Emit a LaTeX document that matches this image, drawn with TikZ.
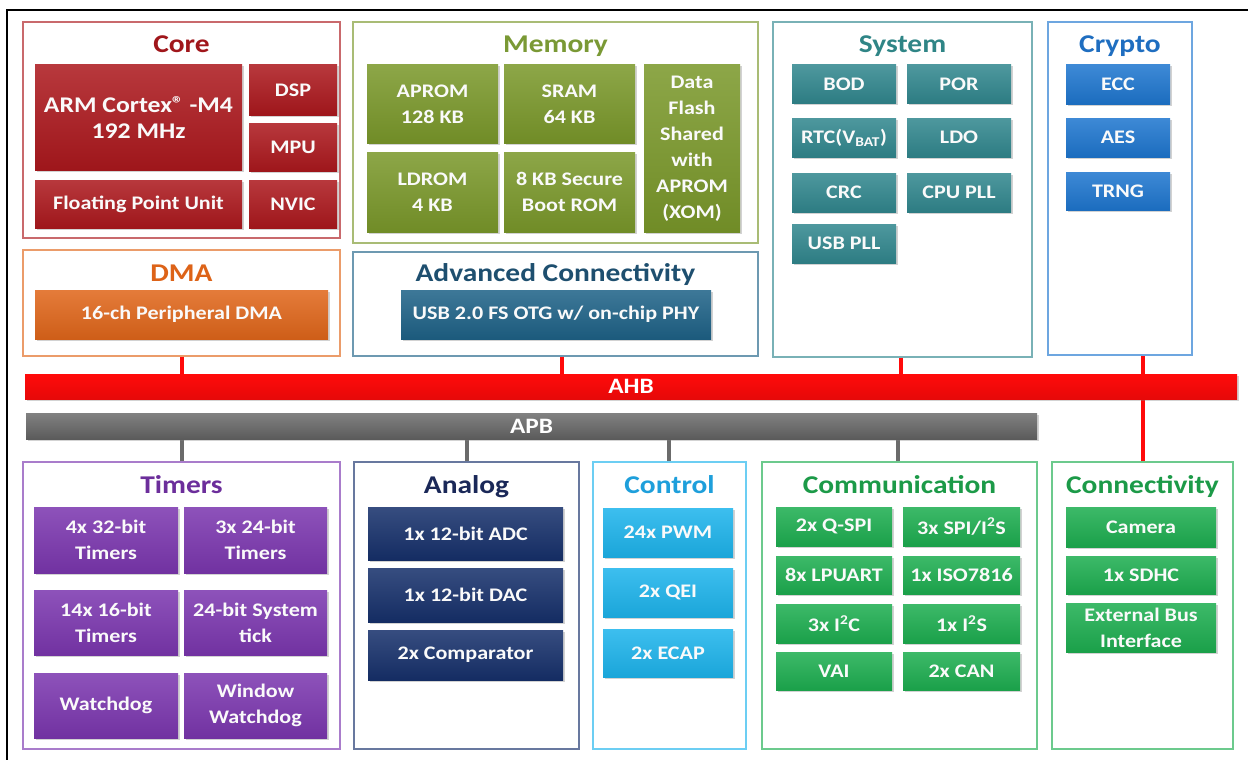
\documentclass[tikz,border=0pt]{standalone}
\usepackage{fontspec}
\setmainfont{Carlito}[FakeStretch=1.15]
\usetikzlibrary{shadows}
\definecolor{coreF}{HTML}{AC181D}\definecolor{coreT}{HTML}{A0161B}
\definecolor{dmaF}{HTML}{E0661A}\definecolor{dmaT}{HTML}{DD6318}
\definecolor{memF}{HTML}{7A982A}\definecolor{memT}{HTML}{7A9935}
\definecolor{advF}{HTML}{1E6287}\definecolor{advT}{HTML}{1E4F6F}
\definecolor{sysF}{HTML}{31878E}\definecolor{sysT}{HTML}{2F8586}
\definecolor{cryF}{HTML}{1E76CF}\definecolor{cryT}{HTML}{1F6EC0}
\definecolor{timF}{HTML}{7B36AF}\definecolor{timT}{HTML}{6C2E9B}
\definecolor{anaF}{HTML}{16306B}\definecolor{anaT}{HTML}{1A2858}
\definecolor{ctlF}{HTML}{1DB4EC}\definecolor{ctlT}{HTML}{1E9FDB}
\definecolor{comF}{HTML}{1DAE50}\definecolor{comT}{HTML}{1C9A48}
\definecolor{ahbF}{HTML}{FF0A0A}\definecolor{apbF}{HTML}{6B6B6B}
\tikzset{
  grp/.style={draw, line width=1.4pt, inner sep=0pt, fill=white},
  blk/.style={inner sep=0pt, align=center, text=white!96!gray,
    font=\fontsize{19.2}{26}\selectfont\bfseries,
    drop shadow={opacity=0.35, shadow xshift=1.5pt, shadow yshift=-1.5pt}},
  ttl/.style={anchor=base, inner sep=0pt, font=\fontsize{25.6}{30}\selectfont\bfseries},
  bus/.style={inner sep=0pt, text=white, font=\fontsize{22}{24}\selectfont\bfseries,
    drop shadow={opacity=0.35, shadow xshift=1.5pt, shadow yshift=-1.5pt}},
  ahbw/.style={draw=ahbF, line width=4pt},
  apbw/.style={draw=apbF, line width=4pt},
  frame/.style={draw=black, line width=2pt}
}
\newcommand\grpbox[6]{\node[grp, draw=#6!65!white, minimum width={(#4-#2)*1pt}, minimum height={(#5-#3)*1pt}] (#1) at ({(#2+#4)/2},{(#3+#5)/2}) {};}
\newcommand\blk[7]{\node[blk, top color=#6!86!white, bottom color=#6!92!black, minimum width={(#4-#2)*1pt}, minimum height={(#5-#3)*1pt}] (#1) at ({(#2+#4)/2},{(#3+#5)/2}) {#7};}
\newcommand\ttl[5]{\node[ttl, text=#4] (#1) at (#2,#3) {#5};}
\begin{document}
\begin{tikzpicture}[x=1pt, y=-1pt]
\useasboundingbox (0,0) rectangle (1248,760);
\coordinate (fbl) at (7,760);
\coordinate (ftl) at (7,10);
\coordinate (ftr) at (1248,10);
\draw[frame] (fbl) -- (ftl) -- (ftr);
% ---- top row groups
\grpbox{core}{23}{22}{340}{238}{coreF}
\grpbox{mem}{353}{22}{758}{243}{memF}
\grpbox{sys}{773}{22}{1032}{357}{sysF}
\grpbox{cry}{1048}{22}{1192}{355}{cryF}
\grpbox{dma}{23}{250}{340}{356}{dmaF}
\grpbox{adv}{353}{252}{758}{356}{advF}
% ---- bottom row groups
\grpbox{tim}{23}{462}{340}{749}{timF}
\grpbox{ana}{354}{462}{579}{749}{anaF}
\grpbox{ctl}{593}{462}{746}{749}{ctlF}
\grpbox{com}{762}{462}{1037}{749}{comF}
\grpbox{conn}{1052}{462}{1233}{749}{comF}
% ---- connectors
\draw[ahbw] (dma.south) -- (dma.south |- 0,386);
\draw[ahbw] ([xshift=6pt]adv.south) -- ([xshift=6pt]adv.south |- 0,386);
\draw[ahbw] ([xshift=-2pt]sys.south) -- ([xshift=-2pt]sys.south |- 0,386);
\draw[ahbw] (conn.north) -- (conn.north |- cry.south);
\draw[apbw] (tim.north) -- (tim.north |- 0,426);
\draw[apbw] (ana.north) -- (ana.north |- 0,426);
\draw[apbw] ([xshift=-1pt]ctl.north) -- ([xshift=-1pt]ctl.north |- 0,426);
\draw[apbw] ([xshift=-2pt]com.north) -- ([xshift=-2pt]com.north |- 0,426);
% ---- buses
\node[bus, top color=ahbF, bottom color=ahbF!90!black, minimum width=1212pt, minimum height=25pt] (ahb) at (631,386.5) {AHB};
\node[bus, top color=apbF!85!white, bottom color=apbF!85!black, minimum width=1011pt, minimum height=26pt] (apb) at (531.5,426) {APB};
% ---- titles
\ttl{coret}{181.5}{53}{coreT}{Core}
\ttl{memt}{555.5}{53}{memT}{Memory}
\ttl{syst}{902.5}{53}{sysT}{System}
\ttl{cryt}{1120}{53}{cryT}{Crypto}
\ttl{dmat}{181.5}{281}{dmaT}{DMA}
\ttl{advt}{555.5}{281}{advT}{Advanced Connectivity}
\ttl{timt}{181.5}{493}{timT}{Timers}
\ttl{anat}{466.5}{493}{anaT}{Analog}
\ttl{ctlt}{669.5}{493}{ctlT}{Control}
\ttl{comt}{899.5}{493}{comT}{Communication}
\ttl{connt}{1142.5}{493}{comT}{Connectivity}
% ---- core
\blk{arm}{35}{65}{242}{170}{coreF}{\fontsize{22.4}{28}\selectfont ARM Cortex\raisebox{2pt}{\fontsize{20}{20}\selectfont ®} -M4\\\fontsize{22.4}{28}\selectfont 192 MHz}
\blk{dsp}{249}{65}{337}{115}{coreF}{DSP}
\blk{mpu}{249}{123}{337}{171}{coreF}{MPU}
\blk{fpu}{35}{180}{242}{228}{coreF}{Floating Point Unit}
\blk{nvic}{249}{180}{337}{228}{coreF}{NVIC}
% ---- memory
\blk{aprom}{367}{65}{498}{143}{memF}{APROM\\128 KB}
\blk{sram}{504}{65}{635}{143}{memF}{SRAM\\64 KB}
\blk{ldrom}{367}{152}{498}{232}{memF}{LDROM\\4 KB}
\blk{sboot}{504}{152}{635}{232}{memF}{8 KB Secure\\Boot ROM}
\blk{dflash}{644}{65}{740}{232}{memF}{Data\\Flash\\Shared\\with\\APROM\\(XOM)}
% ---- system
\blk{bod}{792}{65}{896}{103}{sysF}{BOD}
\blk{por}{907}{65}{1011}{103}{sysF}{POR}
\blk{rtc}{792}{118}{896}{157}{sysF}{RTC(V\textsubscript{BAT})}
\blk{ldo}{907}{118}{1011}{157}{sysF}{LDO}
\blk{crc}{792}{173}{896}{212}{sysF}{CRC}
\blk{cpupll}{907}{173}{1011}{212}{sysF}{CPU PLL}
\blk{usbpll}{792}{224}{896}{263}{sysF}{USB PLL}
% ---- crypto
\blk{ecc}{1066}{65}{1170}{104}{cryF}{ECC}
\blk{aes}{1066}{118}{1170}{157}{cryF}{AES}
\blk{trng}{1066}{172}{1170}{210}{cryF}{TRNG}
% ---- dma / adv
\blk{pdma}{35}{290}{328}{339}{dmaF}{16-ch Peripheral DMA}
\blk{usb}{401}{290}{711}{339}{advF}{USB 2.0 FS OTG w/ on-chip PHY}
% ---- timers
\blk{t32}{34}{507}{178}{573}{timF}{4x 32-bit\\Timers}
\blk{t24}{184}{507}{327}{573}{timF}{3x 24-bit\\Timers}
\blk{t16}{34}{590}{178}{655}{timF}{14x 16-bit\\Timers}
\blk{tick}{184}{590}{327}{655}{timF}{24-bit System\\tick}
\blk{wdt}{34}{673}{178}{738}{timF}{Watchdog}
\blk{wwdt}{184}{673}{327}{738}{timF}{Window\\Watchdog}
% ---- analog
\blk{adc}{368}{507}{563}{560}{anaF}{1x 12-bit ADC}
\blk{dac}{368}{568}{563}{622}{anaF}{1x 12-bit DAC}
\blk{acmp}{368}{630}{563}{680}{anaF}{2x Comparator}
% ---- control
\blk{pwm}{603}{508}{733}{557}{ctlF}{24x PWM}
\blk{qei}{603}{568}{733}{617}{ctlF}{2x QEI}
\blk{ecap}{603}{629}{733}{677}{ctlF}{2x ECAP}
% ---- communication
\blk{qspi}{776}{507}{892}{546}{comF}{2x Q-SPI}
\blk{spi}{903}{507}{1020}{546}{comF}{3x SPI/I\textsuperscript{2}S}
\blk{uart}{776}{556}{892}{594}{comF}{8x LPUART}
\blk{iso}{903}{556}{1020}{594}{comF}{1x ISO7816}
\blk{i2c}{776}{604}{892}{643}{comF}{3x I\textsuperscript{2}C}
\blk{i2s}{903}{604}{1020}{643}{comF}{1x I\textsuperscript{2}S}
\blk{vai}{776}{652}{892}{690}{comF}{VAI}
\blk{can}{903}{652}{1020}{690}{comF}{2x CAN}
% ---- connectivity
\blk{cam}{1066}{507}{1216}{547}{comF}{Camera}
\blk{sdhc}{1066}{556}{1216}{594}{comF}{1x SDHC}
\blk{ebi}{1066}{603}{1216}{652}{comF}{External Bus\\Interface}
\end{tikzpicture}
\end{document}
